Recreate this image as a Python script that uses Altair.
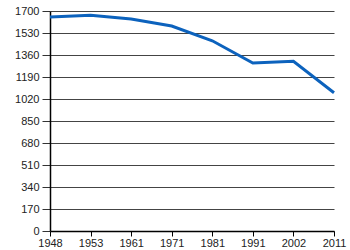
import altair as alt
import pandas as pd

years = ["1948", "1953", "1961", "1971", "1981", "1991", "2002", "2011"]
values = [1654, 1668, 1638, 1584, 1470, 1298, 1312, 1068]
y_ticks = [0, 170, 340, 510, 680, 850, 1020, 1190, 1360, 1530, 1700]

df = pd.DataFrame({"year": years, "value": values})

chart = alt.Chart(df).mark_line(color="#0c62bd", strokeWidth=3).encode(
    x=alt.X("year:O", sort=years, title=None,
            scale=alt.Scale(type="point", padding=0),
            axis=alt.Axis(labelAngle=0, domainColor="#000", domainWidth=1.5,
                          tickColor="#000", tickSize=5, labelFontSize=11,
                          labelFont="Liberation Sans", labelColor="#222",
                          labelPadding=1, grid=False)),
    y=alt.Y("value:Q", title=None,
            scale=alt.Scale(domain=[0, 1700], nice=False),
            axis=alt.Axis(values=y_ticks, format="d", domainColor="#000", domainWidth=1.5,
                          tickColor="#333", tickSize=8, labelFontSize=11,
                          labelFont="Liberation Sans", labelColor="#222",
                          labelPadding=3, grid=True, gridColor="#444",
                          gridWidth=1, gridOpacity=1)),
).properties(
    width=284, height=220,
    autosize=alt.AutoSizeParams(type="none"),
    padding={"left": 50, "top": 11, "right": 16, "bottom": 19},
).configure_view(stroke=None)

chart.save("out.html", embed_options={"renderer": "svg", "actions": False})
